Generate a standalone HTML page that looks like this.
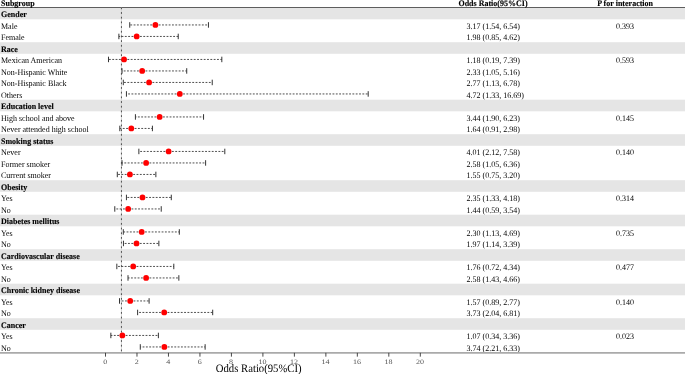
<!DOCTYPE html><html><head><meta charset="utf-8"><style>html,body{margin:0;padding:0;background:#fff;overflow:hidden}svg{display:block;will-change:transform}text{font-family:"Liberation Serif",serif;text-rendering:geometricPrecision}text[font-weight="bold"]{stroke:#000;stroke-width:0.12px}</style></head><body>
<svg width="685" height="374" viewBox="0 0 685 374">
<rect x="0" y="0" width="685" height="374" fill="#fff"/>
<rect x="0" y="7.70" width="685" height="11.6" fill="#e5e5e5"/>
<rect x="0" y="42.20" width="685" height="11.6" fill="#e5e5e5"/>
<rect x="0" y="99.70" width="685" height="11.6" fill="#e5e5e5"/>
<rect x="0" y="134.20" width="685" height="11.6" fill="#e5e5e5"/>
<rect x="0" y="180.20" width="685" height="11.6" fill="#e5e5e5"/>
<rect x="0" y="214.70" width="685" height="11.6" fill="#e5e5e5"/>
<rect x="0" y="249.20" width="685" height="11.6" fill="#e5e5e5"/>
<rect x="0" y="283.70" width="685" height="11.6" fill="#e5e5e5"/>
<rect x="0" y="318.20" width="685" height="11.6" fill="#e5e5e5"/>
<line x1="0" x2="685" y1="7.5" y2="7.5" stroke="#5e5e5e" stroke-width="1.2"/>
<text transform="translate(1,5.90) scale(1,1.06)" font-size="8" font-weight="bold" fill="#000">Subgroup</text>
<text transform="translate(493,5.90) scale(1,1.06)" font-size="8" font-weight="bold" text-anchor="middle" fill="#000">Odds Ratio(95%CI)</text>
<text transform="translate(625.1,5.90) scale(1,1.06)" font-size="8" font-weight="bold" text-anchor="middle" fill="#000">P for interaction</text>
<line x1="121.44" x2="121.44" y1="7.4" y2="352.85" stroke="#d4d4d4" stroke-width="0.95"/>
<line x1="121.44" x2="121.44" y1="7.4" y2="352.85" stroke="#4a4a4a" stroke-width="0.95" stroke-dasharray="1.8 2.886"/>
<text transform="translate(1,17.40) scale(1,1.06)" font-size="8" font-weight="bold" fill="#000">Gender</text>
<text transform="translate(1,28.90) scale(1,1.06)" font-size="8" fill="#000">Male</text>
<text transform="translate(466.5,28.90) scale(1,1.06)" font-size="8" fill="#000">3.17 (1.54, 6.54)</text>
<text transform="translate(625.1,28.90) scale(1,1.06)" font-size="8" text-anchor="middle" fill="#000">0.393</text>
<line x1="155.40" x2="129.74" y1="24.95" y2="24.95" stroke="#3a3a3a" stroke-width="0.9" stroke-dasharray="1.85 1.47"/>
<line x1="155.40" x2="208.44" y1="24.95" y2="24.95" stroke="#3a3a3a" stroke-width="0.9" stroke-dasharray="1.85 1.47"/>
<line x1="129.74" x2="129.74" y1="22.20" y2="27.70" stroke="#333" stroke-width="1.0"/>
<line x1="208.44" x2="208.44" y1="22.20" y2="27.70" stroke="#333" stroke-width="1.0"/>
<circle cx="155.40" cy="24.95" r="2.9" fill="#ff0000"/>
<text transform="translate(1,40.40) scale(1,1.06)" font-size="8" fill="#000">Female</text>
<text transform="translate(466.5,40.40) scale(1,1.06)" font-size="8" fill="#000">1.98 (0.85, 4.62)</text>
<line x1="136.67" x2="118.88" y1="36.45" y2="36.45" stroke="#3a3a3a" stroke-width="0.9" stroke-dasharray="1.85 1.47"/>
<line x1="136.67" x2="178.22" y1="36.45" y2="36.45" stroke="#3a3a3a" stroke-width="0.9" stroke-dasharray="1.85 1.47"/>
<line x1="118.88" x2="118.88" y1="33.70" y2="39.20" stroke="#333" stroke-width="1.0"/>
<line x1="178.22" x2="178.22" y1="33.70" y2="39.20" stroke="#333" stroke-width="1.0"/>
<circle cx="136.67" cy="36.45" r="2.9" fill="#ff0000"/>
<text transform="translate(1,51.90) scale(1,1.06)" font-size="8" font-weight="bold" fill="#000">Race</text>
<text transform="translate(1,63.40) scale(1,1.06)" font-size="8" fill="#000">Mexican American</text>
<text transform="translate(466.5,63.40) scale(1,1.06)" font-size="8" fill="#000">1.18 (0.19, 7.39)</text>
<text transform="translate(625.1,63.40) scale(1,1.06)" font-size="8" text-anchor="middle" fill="#000">0.593</text>
<line x1="124.07" x2="108.49" y1="59.45" y2="59.45" stroke="#3a3a3a" stroke-width="0.9" stroke-dasharray="1.85 1.47"/>
<line x1="124.07" x2="221.82" y1="59.45" y2="59.45" stroke="#3a3a3a" stroke-width="0.9" stroke-dasharray="1.85 1.47"/>
<line x1="108.49" x2="108.49" y1="56.70" y2="62.20" stroke="#333" stroke-width="1.0"/>
<line x1="221.82" x2="221.82" y1="56.70" y2="62.20" stroke="#333" stroke-width="1.0"/>
<circle cx="124.07" cy="59.45" r="2.9" fill="#ff0000"/>
<text transform="translate(1,74.90) scale(1,1.06)" font-size="8" fill="#000">Non-Hispanic White</text>
<text transform="translate(466.5,74.90) scale(1,1.06)" font-size="8" fill="#000">2.33 (1.05, 5.16)</text>
<line x1="142.17" x2="122.03" y1="70.95" y2="70.95" stroke="#3a3a3a" stroke-width="0.9" stroke-dasharray="1.85 1.47"/>
<line x1="142.17" x2="186.72" y1="70.95" y2="70.95" stroke="#3a3a3a" stroke-width="0.9" stroke-dasharray="1.85 1.47"/>
<line x1="122.03" x2="122.03" y1="68.20" y2="73.70" stroke="#333" stroke-width="1.0"/>
<line x1="186.72" x2="186.72" y1="68.20" y2="73.70" stroke="#333" stroke-width="1.0"/>
<circle cx="142.17" cy="70.95" r="2.9" fill="#ff0000"/>
<text transform="translate(1,86.40) scale(1,1.06)" font-size="8" fill="#000">Non-Hispanic Black</text>
<text transform="translate(466.5,86.40) scale(1,1.06)" font-size="8" fill="#000">2.77 (1.13, 6.78)</text>
<line x1="149.10" x2="123.29" y1="82.45" y2="82.45" stroke="#3a3a3a" stroke-width="0.9" stroke-dasharray="1.85 1.47"/>
<line x1="149.10" x2="212.22" y1="82.45" y2="82.45" stroke="#3a3a3a" stroke-width="0.9" stroke-dasharray="1.85 1.47"/>
<line x1="123.29" x2="123.29" y1="79.70" y2="85.20" stroke="#333" stroke-width="1.0"/>
<line x1="212.22" x2="212.22" y1="79.70" y2="85.20" stroke="#333" stroke-width="1.0"/>
<circle cx="149.10" cy="82.45" r="2.9" fill="#ff0000"/>
<text transform="translate(1,97.90) scale(1,1.06)" font-size="8" fill="#000">Others</text>
<text transform="translate(466.5,97.90) scale(1,1.06)" font-size="8" fill="#000">4.72 (1.33, 16.69)</text>
<line x1="179.79" x2="126.43" y1="93.95" y2="93.95" stroke="#3a3a3a" stroke-width="0.9" stroke-dasharray="1.85 1.47"/>
<line x1="179.79" x2="368.20" y1="93.95" y2="93.95" stroke="#3a3a3a" stroke-width="0.9" stroke-dasharray="1.85 1.47"/>
<line x1="126.43" x2="126.43" y1="91.20" y2="96.70" stroke="#333" stroke-width="1.0"/>
<line x1="368.20" x2="368.20" y1="91.20" y2="96.70" stroke="#333" stroke-width="1.0"/>
<circle cx="179.79" cy="93.95" r="2.9" fill="#ff0000"/>
<text transform="translate(1,109.40) scale(1,1.06)" font-size="8" font-weight="bold" fill="#000">Education level</text>
<text transform="translate(1,120.90) scale(1,1.06)" font-size="8" fill="#000">High school and above</text>
<text transform="translate(466.5,120.90) scale(1,1.06)" font-size="8" fill="#000">3.44 (1.90, 6.23)</text>
<text transform="translate(625.1,120.90) scale(1,1.06)" font-size="8" text-anchor="middle" fill="#000">0.145</text>
<line x1="159.65" x2="135.41" y1="116.95" y2="116.95" stroke="#3a3a3a" stroke-width="0.9" stroke-dasharray="1.85 1.47"/>
<line x1="159.65" x2="203.56" y1="116.95" y2="116.95" stroke="#3a3a3a" stroke-width="0.9" stroke-dasharray="1.85 1.47"/>
<line x1="135.41" x2="135.41" y1="114.20" y2="119.70" stroke="#333" stroke-width="1.0"/>
<line x1="203.56" x2="203.56" y1="114.20" y2="119.70" stroke="#333" stroke-width="1.0"/>
<circle cx="159.65" cy="116.95" r="2.9" fill="#ff0000"/>
<text transform="translate(1,132.40) scale(1,1.06)" font-size="8" fill="#000">Never attended high school</text>
<text transform="translate(466.5,132.40) scale(1,1.06)" font-size="8" fill="#000">1.64 (0.91, 2.98)</text>
<line x1="131.31" x2="119.82" y1="128.45" y2="128.45" stroke="#3a3a3a" stroke-width="0.9" stroke-dasharray="1.85 1.47"/>
<line x1="131.31" x2="152.41" y1="128.45" y2="128.45" stroke="#3a3a3a" stroke-width="0.9" stroke-dasharray="1.85 1.47"/>
<line x1="119.82" x2="119.82" y1="125.70" y2="131.20" stroke="#333" stroke-width="1.0"/>
<line x1="152.41" x2="152.41" y1="125.70" y2="131.20" stroke="#333" stroke-width="1.0"/>
<circle cx="131.31" cy="128.45" r="2.9" fill="#ff0000"/>
<text transform="translate(1,143.90) scale(1,1.06)" font-size="8" font-weight="bold" fill="#000">Smoking status</text>
<text transform="translate(1,155.40) scale(1,1.06)" font-size="8" fill="#000">Never</text>
<text transform="translate(466.5,155.40) scale(1,1.06)" font-size="8" fill="#000">4.01 (2.12, 7.58)</text>
<text transform="translate(625.1,155.40) scale(1,1.06)" font-size="8" text-anchor="middle" fill="#000">0.140</text>
<line x1="168.62" x2="138.87" y1="151.45" y2="151.45" stroke="#3a3a3a" stroke-width="0.9" stroke-dasharray="1.85 1.47"/>
<line x1="168.62" x2="224.81" y1="151.45" y2="151.45" stroke="#3a3a3a" stroke-width="0.9" stroke-dasharray="1.85 1.47"/>
<line x1="138.87" x2="138.87" y1="148.70" y2="154.20" stroke="#333" stroke-width="1.0"/>
<line x1="224.81" x2="224.81" y1="148.70" y2="154.20" stroke="#333" stroke-width="1.0"/>
<circle cx="168.62" cy="151.45" r="2.9" fill="#ff0000"/>
<text transform="translate(1,166.90) scale(1,1.06)" font-size="8" fill="#000">Former smoker</text>
<text transform="translate(466.5,166.90) scale(1,1.06)" font-size="8" fill="#000">2.58 (1.05, 6.36)</text>
<line x1="146.11" x2="122.03" y1="162.95" y2="162.95" stroke="#3a3a3a" stroke-width="0.9" stroke-dasharray="1.85 1.47"/>
<line x1="146.11" x2="205.61" y1="162.95" y2="162.95" stroke="#3a3a3a" stroke-width="0.9" stroke-dasharray="1.85 1.47"/>
<line x1="122.03" x2="122.03" y1="160.20" y2="165.70" stroke="#333" stroke-width="1.0"/>
<line x1="205.61" x2="205.61" y1="160.20" y2="165.70" stroke="#333" stroke-width="1.0"/>
<circle cx="146.11" cy="162.95" r="2.9" fill="#ff0000"/>
<text transform="translate(1,178.40) scale(1,1.06)" font-size="8" fill="#000">Current smoker</text>
<text transform="translate(466.5,178.40) scale(1,1.06)" font-size="8" fill="#000">1.55 (0.75, 3.20)</text>
<line x1="129.90" x2="117.31" y1="174.45" y2="174.45" stroke="#3a3a3a" stroke-width="0.9" stroke-dasharray="1.85 1.47"/>
<line x1="129.90" x2="155.87" y1="174.45" y2="174.45" stroke="#3a3a3a" stroke-width="0.9" stroke-dasharray="1.85 1.47"/>
<line x1="117.31" x2="117.31" y1="171.70" y2="177.20" stroke="#333" stroke-width="1.0"/>
<line x1="155.87" x2="155.87" y1="171.70" y2="177.20" stroke="#333" stroke-width="1.0"/>
<circle cx="129.90" cy="174.45" r="2.9" fill="#ff0000"/>
<text transform="translate(1,189.90) scale(1,1.06)" font-size="8" font-weight="bold" fill="#000">Obesity</text>
<text transform="translate(1,201.40) scale(1,1.06)" font-size="8" fill="#000">Yes</text>
<text transform="translate(466.5,201.40) scale(1,1.06)" font-size="8" fill="#000">2.35 (1.33, 4.18)</text>
<text transform="translate(625.1,201.40) scale(1,1.06)" font-size="8" text-anchor="middle" fill="#000">0.314</text>
<line x1="142.49" x2="126.43" y1="197.45" y2="197.45" stroke="#3a3a3a" stroke-width="0.9" stroke-dasharray="1.85 1.47"/>
<line x1="142.49" x2="171.29" y1="197.45" y2="197.45" stroke="#3a3a3a" stroke-width="0.9" stroke-dasharray="1.85 1.47"/>
<line x1="126.43" x2="126.43" y1="194.70" y2="200.20" stroke="#333" stroke-width="1.0"/>
<line x1="171.29" x2="171.29" y1="194.70" y2="200.20" stroke="#333" stroke-width="1.0"/>
<circle cx="142.49" cy="197.45" r="2.9" fill="#ff0000"/>
<text transform="translate(1,212.90) scale(1,1.06)" font-size="8" fill="#000">No</text>
<text transform="translate(466.5,212.90) scale(1,1.06)" font-size="8" fill="#000">1.44 (0.59, 3.54)</text>
<line x1="128.17" x2="114.79" y1="208.95" y2="208.95" stroke="#3a3a3a" stroke-width="0.9" stroke-dasharray="1.85 1.47"/>
<line x1="128.17" x2="161.22" y1="208.95" y2="208.95" stroke="#3a3a3a" stroke-width="0.9" stroke-dasharray="1.85 1.47"/>
<line x1="114.79" x2="114.79" y1="206.20" y2="211.70" stroke="#333" stroke-width="1.0"/>
<line x1="161.22" x2="161.22" y1="206.20" y2="211.70" stroke="#333" stroke-width="1.0"/>
<circle cx="128.17" cy="208.95" r="2.9" fill="#ff0000"/>
<text transform="translate(1,224.40) scale(1,1.06)" font-size="8" font-weight="bold" fill="#000">Diabetes mellitus</text>
<text transform="translate(1,235.90) scale(1,1.06)" font-size="8" fill="#000">Yes</text>
<text transform="translate(466.5,235.90) scale(1,1.06)" font-size="8" fill="#000">2.30 (1.13, 4.69)</text>
<text transform="translate(625.1,235.90) scale(1,1.06)" font-size="8" text-anchor="middle" fill="#000">0.735</text>
<line x1="141.70" x2="123.29" y1="231.95" y2="231.95" stroke="#3a3a3a" stroke-width="0.9" stroke-dasharray="1.85 1.47"/>
<line x1="141.70" x2="179.32" y1="231.95" y2="231.95" stroke="#3a3a3a" stroke-width="0.9" stroke-dasharray="1.85 1.47"/>
<line x1="123.29" x2="123.29" y1="229.20" y2="234.70" stroke="#333" stroke-width="1.0"/>
<line x1="179.32" x2="179.32" y1="229.20" y2="234.70" stroke="#333" stroke-width="1.0"/>
<circle cx="141.70" cy="231.95" r="2.9" fill="#ff0000"/>
<text transform="translate(1,247.40) scale(1,1.06)" font-size="8" fill="#000">No</text>
<text transform="translate(466.5,247.40) scale(1,1.06)" font-size="8" fill="#000">1.97 (1.14, 3.39)</text>
<line x1="136.51" x2="123.44" y1="243.45" y2="243.45" stroke="#3a3a3a" stroke-width="0.9" stroke-dasharray="1.85 1.47"/>
<line x1="136.51" x2="158.86" y1="243.45" y2="243.45" stroke="#3a3a3a" stroke-width="0.9" stroke-dasharray="1.85 1.47"/>
<line x1="123.44" x2="123.44" y1="240.70" y2="246.20" stroke="#333" stroke-width="1.0"/>
<line x1="158.86" x2="158.86" y1="240.70" y2="246.20" stroke="#333" stroke-width="1.0"/>
<circle cx="136.51" cy="243.45" r="2.9" fill="#ff0000"/>
<text transform="translate(1,258.90) scale(1,1.06)" font-size="8" font-weight="bold" fill="#000">Cardiovascular disease</text>
<text transform="translate(1,270.40) scale(1,1.06)" font-size="8" fill="#000">Yes</text>
<text transform="translate(466.5,270.40) scale(1,1.06)" font-size="8" fill="#000">1.76 (0.72, 4.34)</text>
<text transform="translate(625.1,270.40) scale(1,1.06)" font-size="8" text-anchor="middle" fill="#000">0.477</text>
<line x1="133.20" x2="116.83" y1="266.45" y2="266.45" stroke="#3a3a3a" stroke-width="0.9" stroke-dasharray="1.85 1.47"/>
<line x1="133.20" x2="173.81" y1="266.45" y2="266.45" stroke="#3a3a3a" stroke-width="0.9" stroke-dasharray="1.85 1.47"/>
<line x1="116.83" x2="116.83" y1="263.70" y2="269.20" stroke="#333" stroke-width="1.0"/>
<line x1="173.81" x2="173.81" y1="263.70" y2="269.20" stroke="#333" stroke-width="1.0"/>
<circle cx="133.20" cy="266.45" r="2.9" fill="#ff0000"/>
<text transform="translate(1,281.90) scale(1,1.06)" font-size="8" fill="#000">No</text>
<text transform="translate(466.5,281.90) scale(1,1.06)" font-size="8" fill="#000">2.58 (1.43, 4.66)</text>
<line x1="146.11" x2="128.01" y1="277.95" y2="277.95" stroke="#3a3a3a" stroke-width="0.9" stroke-dasharray="1.85 1.47"/>
<line x1="146.11" x2="178.85" y1="277.95" y2="277.95" stroke="#3a3a3a" stroke-width="0.9" stroke-dasharray="1.85 1.47"/>
<line x1="128.01" x2="128.01" y1="275.20" y2="280.70" stroke="#333" stroke-width="1.0"/>
<line x1="178.85" x2="178.85" y1="275.20" y2="280.70" stroke="#333" stroke-width="1.0"/>
<circle cx="146.11" cy="277.95" r="2.9" fill="#ff0000"/>
<text transform="translate(1,293.40) scale(1,1.06)" font-size="8" font-weight="bold" fill="#000">Chronic kidney disease</text>
<text transform="translate(1,304.90) scale(1,1.06)" font-size="8" fill="#000">Yes</text>
<text transform="translate(466.5,304.90) scale(1,1.06)" font-size="8" fill="#000">1.57 (0.89, 2.77)</text>
<text transform="translate(625.1,304.90) scale(1,1.06)" font-size="8" text-anchor="middle" fill="#000">0.140</text>
<line x1="130.21" x2="119.51" y1="300.95" y2="300.95" stroke="#3a3a3a" stroke-width="0.9" stroke-dasharray="1.85 1.47"/>
<line x1="130.21" x2="149.10" y1="300.95" y2="300.95" stroke="#3a3a3a" stroke-width="0.9" stroke-dasharray="1.85 1.47"/>
<line x1="119.51" x2="119.51" y1="298.20" y2="303.70" stroke="#333" stroke-width="1.0"/>
<line x1="149.10" x2="149.10" y1="298.20" y2="303.70" stroke="#333" stroke-width="1.0"/>
<circle cx="130.21" cy="300.95" r="2.9" fill="#ff0000"/>
<text transform="translate(1,316.40) scale(1,1.06)" font-size="8" fill="#000">No</text>
<text transform="translate(466.5,316.40) scale(1,1.06)" font-size="8" fill="#000">3.73 (2.04, 6.81)</text>
<line x1="164.21" x2="137.61" y1="312.45" y2="312.45" stroke="#3a3a3a" stroke-width="0.9" stroke-dasharray="1.85 1.47"/>
<line x1="164.21" x2="212.69" y1="312.45" y2="312.45" stroke="#3a3a3a" stroke-width="0.9" stroke-dasharray="1.85 1.47"/>
<line x1="137.61" x2="137.61" y1="309.70" y2="315.20" stroke="#333" stroke-width="1.0"/>
<line x1="212.69" x2="212.69" y1="309.70" y2="315.20" stroke="#333" stroke-width="1.0"/>
<circle cx="164.21" cy="312.45" r="2.9" fill="#ff0000"/>
<text transform="translate(1,327.90) scale(1,1.06)" font-size="8" font-weight="bold" fill="#000">Cancer</text>
<text transform="translate(1,339.40) scale(1,1.06)" font-size="8" fill="#000">Yes</text>
<text transform="translate(466.5,339.40) scale(1,1.06)" font-size="8" fill="#000">1.07 (0.34, 3.36)</text>
<text transform="translate(625.1,339.40) scale(1,1.06)" font-size="8" text-anchor="middle" fill="#000">0.023</text>
<line x1="122.34" x2="110.85" y1="335.45" y2="335.45" stroke="#3a3a3a" stroke-width="0.9" stroke-dasharray="1.85 1.47"/>
<line x1="122.34" x2="158.39" y1="335.45" y2="335.45" stroke="#3a3a3a" stroke-width="0.9" stroke-dasharray="1.85 1.47"/>
<line x1="110.85" x2="110.85" y1="332.70" y2="338.20" stroke="#333" stroke-width="1.0"/>
<line x1="158.39" x2="158.39" y1="332.70" y2="338.20" stroke="#333" stroke-width="1.0"/>
<circle cx="122.34" cy="335.45" r="2.9" fill="#ff0000"/>
<text transform="translate(1,350.90) scale(1,1.06)" font-size="8" fill="#000">No</text>
<text transform="translate(466.5,350.90) scale(1,1.06)" font-size="8" fill="#000">3.74 (2.21, 6.33)</text>
<line x1="164.37" x2="140.29" y1="346.95" y2="346.95" stroke="#3a3a3a" stroke-width="0.9" stroke-dasharray="1.85 1.47"/>
<line x1="164.37" x2="205.13" y1="346.95" y2="346.95" stroke="#3a3a3a" stroke-width="0.9" stroke-dasharray="1.85 1.47"/>
<line x1="140.29" x2="140.29" y1="344.20" y2="349.70" stroke="#333" stroke-width="1.0"/>
<line x1="205.13" x2="205.13" y1="344.20" y2="349.70" stroke="#333" stroke-width="1.0"/>
<circle cx="164.37" cy="346.95" r="2.9" fill="#ff0000"/>
<line x1="0" x2="685" y1="352.85" y2="352.85" stroke="#aaa" stroke-width="1.9"/>
<line x1="105.50" x2="105.50" y1="352.85" y2="356.65000000000003" stroke="#333" stroke-width="0.9"/>
<text transform="translate(105.20,363.8) scale(1.2,1)" font-size="6.7" text-anchor="middle" fill="#555">0</text>
<line x1="136.98" x2="136.98" y1="352.85" y2="356.65000000000003" stroke="#333" stroke-width="0.9"/>
<text transform="translate(136.68,363.8) scale(1.2,1)" font-size="6.7" text-anchor="middle" fill="#555">2</text>
<line x1="168.46" x2="168.46" y1="352.85" y2="356.65000000000003" stroke="#333" stroke-width="0.9"/>
<text transform="translate(168.16,363.8) scale(1.2,1)" font-size="6.7" text-anchor="middle" fill="#555">4</text>
<line x1="199.94" x2="199.94" y1="352.85" y2="356.65000000000003" stroke="#333" stroke-width="0.9"/>
<text transform="translate(199.64,363.8) scale(1.2,1)" font-size="6.7" text-anchor="middle" fill="#555">6</text>
<line x1="231.42" x2="231.42" y1="352.85" y2="356.65000000000003" stroke="#333" stroke-width="0.9"/>
<text transform="translate(231.12,363.8) scale(1.2,1)" font-size="6.7" text-anchor="middle" fill="#555">8</text>
<line x1="262.90" x2="262.90" y1="352.85" y2="356.65000000000003" stroke="#333" stroke-width="0.9"/>
<text transform="translate(262.60,363.8) scale(1.2,1)" font-size="6.7" text-anchor="middle" fill="#555">10</text>
<line x1="294.38" x2="294.38" y1="352.85" y2="356.65000000000003" stroke="#333" stroke-width="0.9"/>
<text transform="translate(294.08,363.8) scale(1.2,1)" font-size="6.7" text-anchor="middle" fill="#555">12</text>
<line x1="325.86" x2="325.86" y1="352.85" y2="356.65000000000003" stroke="#333" stroke-width="0.9"/>
<text transform="translate(325.56,363.8) scale(1.2,1)" font-size="6.7" text-anchor="middle" fill="#555">14</text>
<line x1="357.34" x2="357.34" y1="352.85" y2="356.65000000000003" stroke="#333" stroke-width="0.9"/>
<text transform="translate(357.04,363.8) scale(1.2,1)" font-size="6.7" text-anchor="middle" fill="#555">16</text>
<line x1="388.82" x2="388.82" y1="352.85" y2="356.65000000000003" stroke="#333" stroke-width="0.9"/>
<text transform="translate(388.52,363.8) scale(1.2,1)" font-size="6.7" text-anchor="middle" fill="#555">18</text>
<line x1="420.30" x2="420.30" y1="352.85" y2="356.65000000000003" stroke="#333" stroke-width="0.9"/>
<text transform="translate(420.00,363.8) scale(1.2,1)" font-size="6.7" text-anchor="middle" fill="#555">20</text>
<text transform="translate(258.7,371.5) scale(1,1.07)" font-size="10.7" text-anchor="middle" fill="#000">Odds Ratio(95%CI)</text>
</svg></body></html>
